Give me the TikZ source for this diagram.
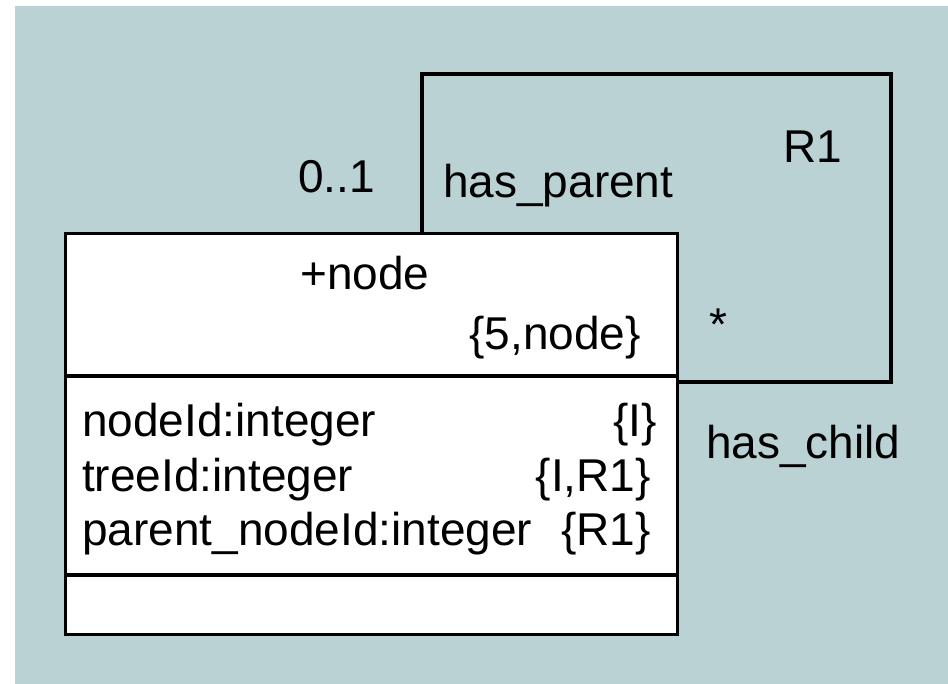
\documentclass[tikz,border=0pt]{standalone}
\usepackage{fontspec}
\setmainfont{Liberation Sans}
\definecolor{bgteal}{RGB}{186,210,211}
\begin{document}
\begin{tikzpicture}[x=1pt,y=-1pt,
  lbl/.style={inner sep=0pt,font=\fontsize{46}{54}\selectfont},
  frame/.style={line width=3.2pt,draw=black},
  classbox/.style={frame,fill=white,rectangle,inner sep=0pt,anchor=north west,minimum width=612pt,minimum height=401pt}]
\useasboundingbox (0,0) rectangle (948,684);
\fill[white] (0,0) rectangle (948,684);
\fill[bgteal] (15,6) rectangle (948,684);
% relationship loop
\coordinate (c1) at (422,74);
\coordinate (c2) at (891,74);
\coordinate (c3) at (891,382);
\node[classbox] (cls) at (64,232) {};
\draw[frame,line join=miter] (cls.north -| c1) -- (c1) -- (c2) -- (c3) -- (c3 -| cls.east);
% dividers
\coordinate (d1) at (0,376);
\coordinate (d2) at (0,575);
\draw[frame] (d1 -| cls.west) -- (d1 -| cls.east);
\draw[frame] (d2 -| cls.west) -- (d2 -| cls.east);
% labels
\node[lbl,anchor=base west] (mult1) at (298,193) {0..1};
\node[lbl,anchor=base west] (hp) at (443,198) {has\_parent};
\node[lbl,anchor=base west] (r1) at (783,163) {R1};
\node[lbl,anchor=center] (mult2) at (718,325) {*};
\node[lbl,anchor=base west] (hc) at (706,458) {has\_child};
\node[lbl,anchor=base west] (cname) at (300,290) {+node};
\node[lbl,anchor=base east] (ckey) at (641,350) {\{5,node\}};
\node[lbl,anchor=base west] (a1) at (82,437) {nodeId:integer};
\node[lbl,anchor=base west] (a2) at (82,491) {treeId:integer};
\node[lbl,anchor=base west] (a3) at (82,545) {parent\_nodeId:integer};
\node[lbl,anchor=base east] (t1) at (657,437) {\{I\}};
\node[lbl,anchor=base east] (t2) at (651,491) {\{I,R1\}};
\node[lbl,anchor=base east] (t3) at (651,545) {\{R1\}};
\end{tikzpicture}
\end{document}
